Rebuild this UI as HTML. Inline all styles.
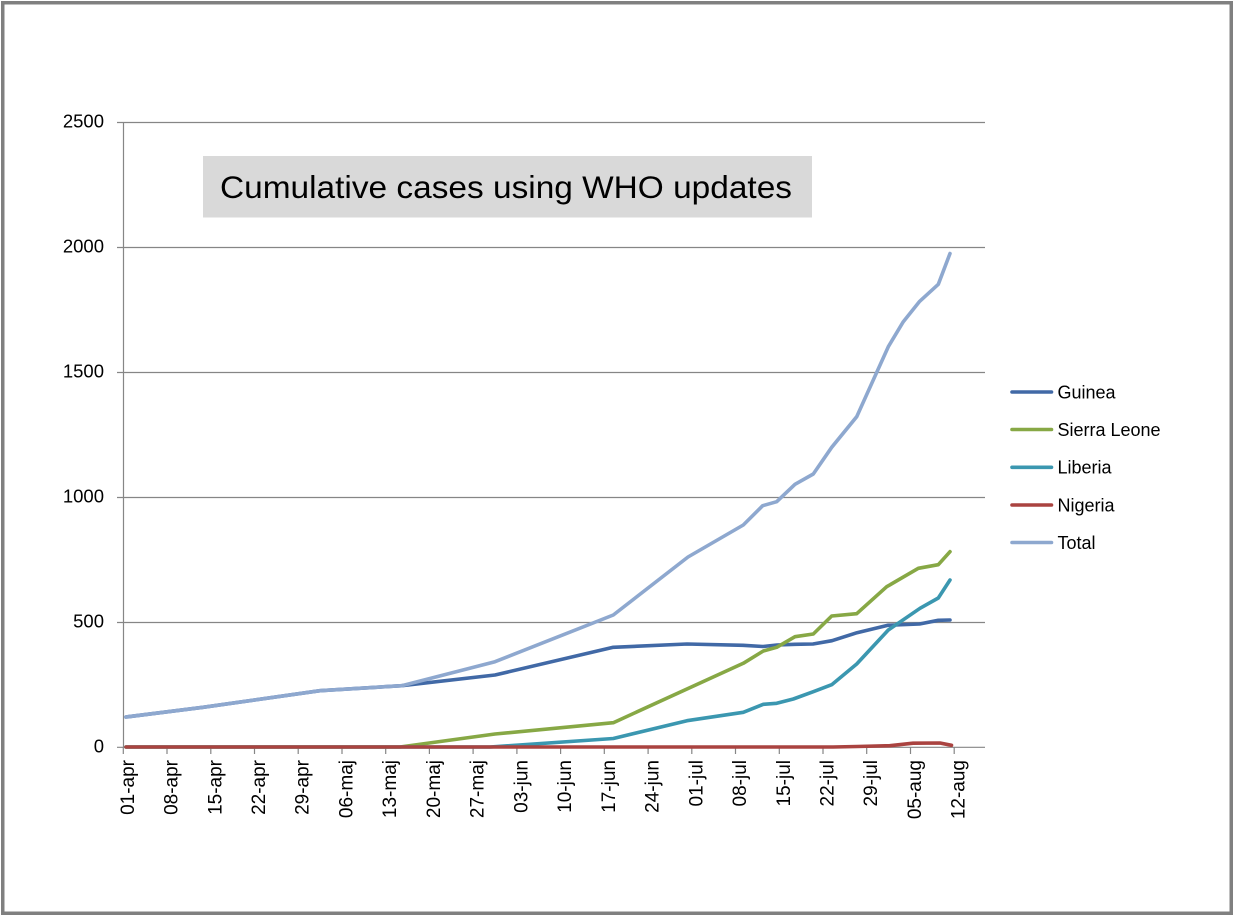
<!DOCTYPE html>
<html>
<head>
<meta charset="utf-8">
<style>
  html,body{margin:0;padding:0;background:#fff;}
  svg{display:block;}
  text{font-family:"Liberation Sans", Arial, sans-serif;fill:#000;}
</style>
</head>
<body>
<svg width="1234" height="916" viewBox="0 0 1234 916" xmlns="http://www.w3.org/2000/svg">
  <rect x="0" y="0" width="1234" height="916" fill="#fff"/>
  <!-- outer border -->
  <rect x="2.75" y="2.75" width="1228.5" height="910.5" fill="none" stroke="#808080" stroke-width="3.5"/>

  <!-- gridlines -->
  <g stroke="#868686" stroke-width="1.2" fill="none">
    <line x1="117" y1="122.5" x2="985" y2="122.5"/>
    <line x1="117" y1="247.5" x2="985" y2="247.5"/>
    <line x1="117" y1="372.5" x2="985" y2="372.5"/>
    <line x1="117" y1="497.5" x2="985" y2="497.5"/>
    <line x1="117" y1="622.5" x2="985" y2="622.5"/>
    <line x1="117" y1="747.3" x2="985" y2="747.3"/>
    <line x1="123.5" y1="122" x2="123.5" y2="747.3"/>
  </g>
  <!-- x ticks -->
  <g stroke="#868686" stroke-width="1.2">
    <line x1="123.3" y1="747" x2="123.3" y2="754"/>
    <line x1="167.0" y1="747" x2="167.0" y2="754"/>
    <line x1="210.8" y1="747" x2="210.8" y2="754"/>
    <line x1="254.5" y1="747" x2="254.5" y2="754"/>
    <line x1="298.2" y1="747" x2="298.2" y2="754"/>
    <line x1="342.0" y1="747" x2="342.0" y2="754"/>
    <line x1="385.7" y1="747" x2="385.7" y2="754"/>
    <line x1="429.4" y1="747" x2="429.4" y2="754"/>
    <line x1="473.1" y1="747" x2="473.1" y2="754"/>
    <line x1="516.9" y1="747" x2="516.9" y2="754"/>
    <line x1="560.6" y1="747" x2="560.6" y2="754"/>
    <line x1="604.3" y1="747" x2="604.3" y2="754"/>
    <line x1="648.1" y1="747" x2="648.1" y2="754"/>
    <line x1="691.8" y1="747" x2="691.8" y2="754"/>
    <line x1="735.5" y1="747" x2="735.5" y2="754"/>
    <line x1="779.3" y1="747" x2="779.3" y2="754"/>
    <line x1="823.0" y1="747" x2="823.0" y2="754"/>
    <line x1="866.7" y1="747" x2="866.7" y2="754"/>
    <line x1="910.5" y1="747" x2="910.5" y2="754"/>
    <line x1="954.2" y1="747" x2="954.2" y2="754"/>
  </g>

  <!-- y labels -->
  <g font-size="18.5" text-anchor="end">
    <text x="104" y="127.5">2500</text>
    <text x="104" y="252.5">2000</text>
    <text x="104" y="377.5">1500</text>
    <text x="104" y="502.5">1000</text>
    <text x="104" y="627.5">500</text>
    <text x="104" y="752.5">0</text>
  </g>

  <!-- x labels -->
  <g font-size="19" text-anchor="end" dominant-baseline="central">
    <text transform="translate(128.3,760) rotate(-90)">01-apr</text>
    <text transform="translate(172.0,760) rotate(-90)">08-apr</text>
    <text transform="translate(215.8,760) rotate(-90)">15-apr</text>
    <text transform="translate(259.5,760) rotate(-90)">22-apr</text>
    <text transform="translate(303.2,760) rotate(-90)">29-apr</text>
    <text transform="translate(347.0,760) rotate(-90)">06-maj</text>
    <text transform="translate(390.7,760) rotate(-90)">13-maj</text>
    <text transform="translate(434.4,760) rotate(-90)">20-maj</text>
    <text transform="translate(478.1,760) rotate(-90)">27-maj</text>
    <text transform="translate(521.9,760) rotate(-90)">03-jun</text>
    <text transform="translate(565.6,760) rotate(-90)">10-jun</text>
    <text transform="translate(609.3,760) rotate(-90)">17-jun</text>
    <text transform="translate(653.1,760) rotate(-90)">24-jun</text>
    <text transform="translate(696.8,760) rotate(-90)">01-jul</text>
    <text transform="translate(740.5,760) rotate(-90)">08-jul</text>
    <text transform="translate(784.3,760) rotate(-90)">15-jul</text>
    <text transform="translate(828.0,760) rotate(-90)">22-jul</text>
    <text transform="translate(871.7,760) rotate(-90)">29-jul</text>
    <text transform="translate(915.5,760) rotate(-90)">05-aug</text>
    <text transform="translate(959.2,760) rotate(-90)">12-aug</text>
  </g>

  <!-- series -->
  <g fill="none" stroke-width="3.6" stroke-linejoin="round" stroke-linecap="round">
    <!-- Guinea -->
    <polyline stroke="#4169A6" points="126,717 203,707.3 320,690.7 401.7,685.7 495,675 613.3,647.3 687,644 743,645.3 763,646.5 777,645 795,644.3 813,644 832,640.7 857,632.7 888,625.3 919.5,624 938.3,620.3 950,620"/>
    <!-- Sierra Leone -->
    <polyline stroke="#87A845" points="126,747 400,747 495,734 613.3,722.7 743.3,663.3 763.3,651 776.7,647.3 795,636.7 813.3,634 831.7,616 856.7,613.7 886.7,586.7 918.3,568.3 938.3,564.7 950,551.7"/>
    <!-- Liberia -->
    <polyline stroke="#3B97B0" points="126,747 490,747 613.3,738.5 687,720.7 743.3,712.3 763.3,704.3 776.7,703.3 793.3,699 813.3,691.7 831.7,684.7 856.7,664 888.3,630 920,608.3 938.3,598 950,580"/>
    <!-- Nigeria -->
    <polyline stroke="#AA4340" points="126,747 833,747 857,746.5 890,745.7 913,743.2 940,743 951.5,745.3"/>
    <!-- Total -->
    <polyline stroke="#8EA8CF" points="126,717 203,707.3 320,690.7 401.7,685.7 495,661.7 613.3,615 688,557 743.3,525 762.7,505.7 776.7,501.7 795,484.3 813.3,474 831.7,447.3 856.7,416.7 888.3,346.7 903.3,321.7 919.3,301.7 938.3,284.3 950,253.5"/>
  </g>

  <!-- title box -->
  <rect x="203" y="156" width="609" height="61.5" fill="#D9D9D9"/>
  <text x="220" y="198" font-size="31.5" textLength="572" lengthAdjust="spacingAndGlyphs">Cumulative cases using WHO updates</text>

  <!-- legend -->
  <g stroke-width="3.6" stroke-linecap="round">
    <line x1="1012" y1="392" x2="1051.5" y2="392" stroke="#4169A6"/>
    <line x1="1012" y1="429.5" x2="1051.5" y2="429.5" stroke="#87A845"/>
    <line x1="1012" y1="467.3" x2="1051.5" y2="467.3" stroke="#3B97B0"/>
    <line x1="1012" y1="505" x2="1051.5" y2="505" stroke="#AA4340"/>
    <line x1="1012" y1="542.5" x2="1051.5" y2="542.5" stroke="#8EA8CF"/>
  </g>
  <g font-size="18">
    <text x="1057.5" y="398.3">Guinea</text>
    <text x="1057.5" y="435.8">Sierra Leone</text>
    <text x="1057.5" y="473.6">Liberia</text>
    <text x="1057.5" y="511.3">Nigeria</text>
    <text x="1057.5" y="548.8">Total</text>
  </g>
</svg>
</body>
</html>
